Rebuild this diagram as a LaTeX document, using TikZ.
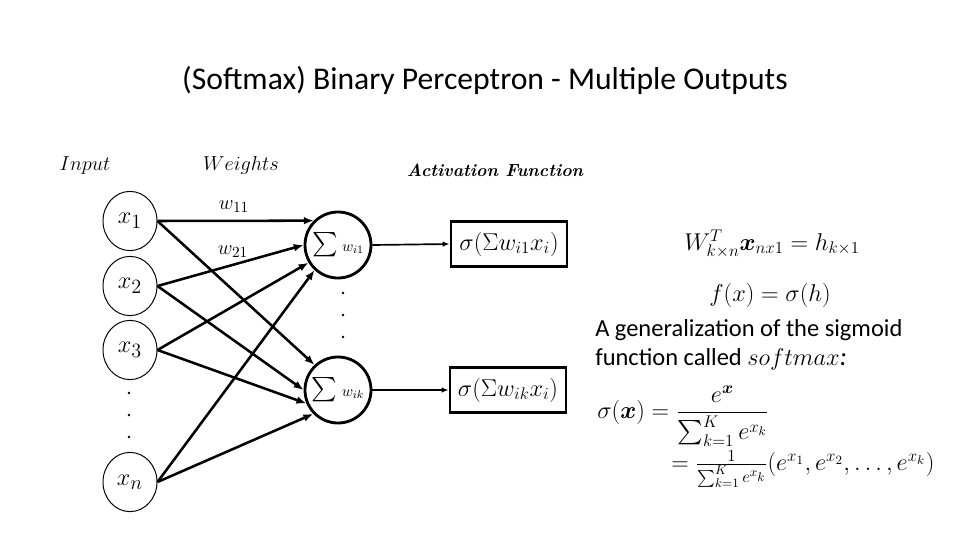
\documentclass[tikz,border=0pt]{standalone}
\usepackage{amsmath}
\usepackage{bm}
\usepackage{fontspec}
\newfontfamily\calibrifont{Carlito}
\usetikzlibrary{arrows.meta,shapes.geometric}
\tikzset{
  inp/.style={ellipse, draw, line width=0.7pt, minimum width=1.35cm, minimum height=1.48cm, inner sep=0pt, font=\fontsize{19}{22}\selectfont},
  sumnode/.style={circle, draw, line width=2pt, minimum size=1.65cm, inner sep=0pt},
  actbox/.style={draw, line width=2pt, minimum width=2.9cm, minimum height=1.12cm, inner sep=0pt, font=\fontsize{17.5}{20}\selectfont},
  wire/.style={line width=1.8pt, -{Latex[length=7pt,width=5.5pt]}},
  outwire/.style={line width=1.2pt, -{Latex[length=5pt,width=4pt]}},
  dotmark/.style={fill=black},
  hdr/.style={font=\fontsize{14}{17}\selectfont},
  bodytext/.style={anchor=base west, inner sep=0pt, font=\calibrifont\fontsize{17.4}{20}\selectfont},
}
\newcommand{\sumlabel}[1]{\fontsize{19}{22}\selectfont$\sum$\hspace{3pt}{\fontsize{11}{12}\selectfont$#1$}}
\begin{document}
\begin{tikzpicture}[x=0.025cm,y=-0.025cm]
\useasboundingbox (0,0) rectangle (960,540);
% title
\node (title) at (485,80) {\calibrifont\fontsize{22.5}{27}\selectfont (Softmax) Binary Perceptron - Multiple Outputs};
% headers
\node[hdr] (lin) at (85,166) {$Input$};
\node[hdr] (lw) at (241,165) {$Weights$};
\node (la) at (495,170) {\fontsize{12.5}{15}\selectfont\bfseries\itshape Activation Function};
% inputs
\node[inp] (x1) at (130,221) {$x_1$};
\node[inp] (x2) at (130,286) {$x_2$};
\node[inp] (x3) at (130,350) {$x_3$};
\node[inp] (xn) at (130,482) {$x_n$};
% sums
\node[sumnode] (s1) at (338,245) {\sumlabel{w_{i1}}};
\node[sumnode] (s2) at (338,390) {\sumlabel{w_{ik}}};
% activation boxes
\node[actbox] (a1) at (509,244) {$\sigma(\Sigma w_{i1}x_i)$};
\node[actbox] (a2) at (508,390) {$\sigma(\Sigma w_{ik}x_i)$};
% weight labels
\node (w11) at (234,207) {\fontsize{15}{18}\selectfont$w_{11}$};
\node (w21) at (233,252) {\fontsize{15}{18}\selectfont$w_{21}$};
% wires
\draw[wire] (x1.east) -- (s1.135);
\draw[wire] (x2.east) -- (s1.180);
\draw[wire] (x3.east) -- (s1.211);
\draw[wire] (xn.east) -- (s1.227);
\draw[wire] (x1.east) -- (s2.133);
\draw[wire] (x2.east) -- (s2.180);
\draw[wire] (x3.east) -- (s2.203);
\draw[wire] (xn.east) -- (s2.224);
\draw[outwire] (s1.east) -- (a1.west);
\draw[outwire] (s2.east) -- (a2.west);
% dots
\foreach \yy in {293,315,337} \fill[dotmark] (343,\yy) circle (1.3);
\foreach \yy in {393,415,437} \fill[dotmark] (129,\yy) circle (1.3);
% right side
\node (eqW) at (772,244) {\fontsize{16.5}{20}\selectfont$W^T_{k\times n}\bm{x}_{nx1}=h_{k\times 1}$};
\node (eqf) at (770,295) {\fontsize{19}{22}\selectfont$f(x)=\sigma(h)$};
\node[bodytext] (t1) at (595,336) {A generalization of the sigmoid};
\node[bodytext] (t2) at (595,365) {function called {\fontsize{19}{22}\selectfont$softmax$\textit{:}}};
\node[anchor=west, inner sep=0pt] (eqs) at (597,416) {\fontsize{18}{22}\selectfont$\sigma(\bm{x})=\dfrac{e^{\bm{x}}}{\sum_{k=1}^{K}e^{x_k}}$};
\node[anchor=west, inner sep=0pt] (eqs2) at (671,469) {\fontsize{18}{22}\selectfont$=\frac{1}{\sum_{k=1}^{K}e^{x_k}}(e^{x_1},e^{x_2},\dots,e^{x_k})$};
\end{tikzpicture}
\end{document}
